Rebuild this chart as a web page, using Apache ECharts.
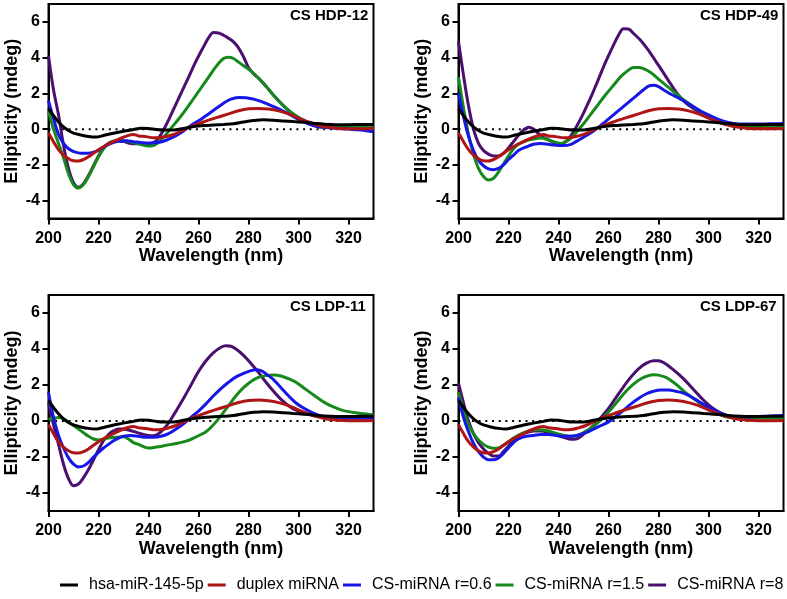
<!DOCTYPE html>
<html><head><meta charset="utf-8">
<script src="https://cdn.jsdelivr.net/npm/echarts@6/dist/echarts.min.js"></script>
<style>html,body{margin:0;padding:0;background:#fff}#c{width:787px;height:599px}</style>
</head><body><div id="c"></div><script>
// ---- data: [wavelength nm, ellipticity mdeg] ----
const ctrl = [[200,1.15],[202,0.75],[204,0.4],[206,0.12],[208,-0.08],[210,-0.22],[213,-0.33],[216,-0.41],[219,-0.44],[222,-0.36],[225,-0.26],[228,-0.17],[231,-0.09],[234,-0.02],[237,0.05],[240,0.04],[243,-0.02],[246,-0.05],[250,-0.05],[254,0.04],[258,0.14],[262,0.2],[266,0.23],[270,0.26],[274,0.3],[278,0.4],[282,0.48],[286,0.52],[290,0.5],[294,0.46],[298,0.42],[302,0.38],[306,0.33],[310,0.28],[315,0.25],[320,0.25],[325,0.26],[330,0.26]];
const duplex = [[200,-0.2],[202,-0.7],[204,-1.15],[206,-1.45],[208,-1.65],[210,-1.77],[212,-1.78],[214,-1.7],[216,-1.55],[218,-1.35],[220,-1.15],[223,-0.9],[226,-0.7],[229,-0.5],[232,-0.35],[234,-0.3],[236,-0.38],[239,-0.42],[242,-0.48],[245,-0.47],[248,-0.38],[251,-0.25],[254,-0.05],[257,0.15],[260,0.3],[264,0.5],[268,0.68],[272,0.85],[276,1.03],[280,1.14],[284,1.16],[288,1.12],[292,1.02],[296,0.85],[300,0.62],[304,0.4],[308,0.22],[312,0.1],[316,0.04],[320,0.02],[325,0.02],[330,0.03]];

const hdp12_r06 = [[200,1.6],[202,0.6],[204,-0.3],[206,-0.8],[208,-1.1],[210,-1.25],[213,-1.35],[216,-1.35],[219,-1.25],[222,-1.0],[225,-0.8],[228,-0.68],[231,-0.65],[234,-0.7],[237,-0.75],[240,-0.78],[243,-0.75],[246,-0.68],[249,-0.5],[252,-0.28],[255,0],[258,0.3],[261,0.55],[264,0.85],[267,1.15],[270,1.45],[273,1.68],[276,1.77],[279,1.76],[282,1.68],[285,1.55],[288,1.38],[291,1.2],[294,1.0],[297,0.78],[300,0.55],[304,0.3],[308,0.15],[312,0.08],[316,0.04],[320,0.0],[325,-0.05],[330,-0.15]];
const hdp12_r15 = [[200,1.0],[202,0.0],[204,-0.8],[206,-1.6],[208,-2.5],[210,-3.1],[212,-3.3],[214,-3.1],[216,-2.65],[218,-2.1],[220,-1.55],[222,-1.1],[224,-0.8],[227,-0.65],[230,-0.65],[233,-0.72],[236,-0.82],[239,-0.93],[241,-0.95],[243,-0.85],[245,-0.6],[247,-0.3],[249,0.05],[252,0.55],[255,1.1],[258,1.7],[261,2.3],[264,2.9],[267,3.5],[270,3.95],[272,4.02],[274,3.95],[276,3.75],[278,3.55],[281,3.25],[284,2.85],[287,2.4],[290,1.9],[293,1.45],[296,1.05],[299,0.75],[302,0.5],[306,0.25],[310,0.12],[315,0.1],[320,0.1],[325,0.1],[330,0.1]];
const hdp12_r8 = [[200,4.1],[202,2.2],[204,0.8],[206,-0.9],[208,-2.2],[210,-3.0],[212,-3.25],[214,-3.05],[216,-2.6],[218,-2.05],[220,-1.5],[222,-1.05],[224,-0.8],[227,-0.65],[230,-0.7],[233,-0.8],[236,-0.82],[239,-0.85],[242,-0.75],[244,-0.5],[246,-0.05],[248,0.5],[250,1.1],[253,2.0],[256,2.9],[259,3.8],[262,4.6],[264,5.1],[266,5.4],[268,5.38],[270,5.25],[272,5.08],[274,4.88],[276,4.55],[278,4.05],[280,3.45],[282,3.1],[284,2.85],[287,2.4],[290,1.9],[293,1.45],[296,1.05],[299,0.72],[302,0.45],[306,0.2],[310,0.1],[315,0.12],[320,0.1],[325,0.08],[330,0.05]];

const hdp49_r06 = [[200,2.0],[202,0.7],[204,-0.4],[206,-1.2],[208,-1.75],[210,-2.05],[212,-2.22],[214,-2.27],[216,-2.2],[218,-2.0],[220,-1.7],[222,-1.45],[224,-1.2],[227,-1.0],[230,-0.85],[233,-0.8],[236,-0.85],[239,-0.9],[242,-0.92],[245,-0.85],[247,-0.7],[250,-0.45],[253,-0.2],[256,0.1],[259,0.45],[262,0.8],[265,1.15],[268,1.5],[271,1.85],[274,2.2],[276,2.4],[278,2.45],[280,2.38],[282,2.2],[285,1.95],[288,1.75],[291,1.5],[294,1.25],[297,1.0],[300,0.8],[303,0.6],[306,0.45],[310,0.32],[315,0.28],[320,0.28],[325,0.3],[330,0.3]];
const hdp49_r15 = [[200,2.9],[202,1.2],[204,-0.3],[206,-1.4],[208,-2.2],[210,-2.65],[212,-2.85],[214,-2.75],[216,-2.4],[218,-1.95],[220,-1.5],[222,-1.1],[224,-0.85],[227,-0.65],[230,-0.55],[233,-0.5],[236,-0.6],[239,-0.75],[241,-0.8],[243,-0.7],[245,-0.5],[247,-0.2],[250,0.3],[253,0.85],[256,1.4],[259,1.95],[262,2.45],[265,2.95],[268,3.3],[270,3.45],[272,3.45],[274,3.38],[277,3.15],[280,2.8],[283,2.45],[286,2.1],[289,1.75],[292,1.45],[295,1.15],[298,0.9],[301,0.65],[305,0.4],[310,0.2],[315,0.15],[320,0.15],[325,0.12],[330,0.1]];
const hdp49_r8 = [[200,4.9],[202,3.0],[204,1.3],[206,0.0],[208,-0.8],[210,-1.2],[212,-1.4],[214,-1.5],[216,-1.5],[218,-1.35],[220,-1.05],[222,-0.7],[224,-0.35],[226,-0.05],[228,0.1],[230,0.0],[232,-0.25],[234,-0.45],[236,-0.6],[238,-0.75],[240,-0.82],[242,-0.78],[244,-0.55],[246,-0.15],[248,0.35],[250,0.9],[253,1.8],[256,2.8],[259,3.8],[262,4.7],[264,5.25],[266,5.62],[268,5.6],[270,5.35],[273,4.95],[276,4.4],[279,3.78],[282,3.15],[285,2.5],[288,1.9],[291,1.45],[294,1.15],[297,0.9],[300,0.68],[304,0.45],[308,0.28],[312,0.2],[316,0.2],[320,0.22],[325,0.25],[330,0.28]];

const ldp11_r06 = [[200,1.6],[202,0.2],[204,-0.8],[206,-1.5],[208,-2.05],[210,-2.4],[212,-2.55],[214,-2.5],[216,-2.3],[218,-2.0],[220,-1.75],[222,-1.5],[224,-1.3],[226,-1.1],[228,-0.95],[230,-0.85],[233,-0.8],[236,-0.85],[239,-0.9],[242,-0.9],[245,-0.85],[248,-0.7],[251,-0.45],[254,-0.15],[257,0.2],[260,0.55],[263,0.95],[266,1.4],[269,1.8],[272,2.15],[275,2.45],[278,2.65],[281,2.8],[283,2.85],[285,2.8],[287,2.62],[290,2.3],[293,1.85],[296,1.4],[299,1.0],[302,0.72],[305,0.5],[308,0.32],[311,0.2],[315,0.15],[320,0.15],[325,0.15],[330,0.15]];
const ldp11_r15 = [[200,0.1],[202,0.15],[204,0.2],[206,0.12],[208,-0.05],[210,-0.25],[212,-0.45],[214,-0.65],[216,-0.85],[218,-1.0],[220,-1.05],[222,-1.0],[224,-0.95],[227,-0.9],[230,-0.88],[232,-1.0],[234,-1.2],[236,-1.3],[238,-1.42],[240,-1.5],[243,-1.45],[246,-1.38],[249,-1.3],[252,-1.22],[255,-1.12],[258,-0.95],[261,-0.75],[263,-0.6],[265,-0.35],[267,-0.05],[269,0.3],[272,0.85],[275,1.4],[278,1.85],[281,2.2],[284,2.42],[287,2.52],[290,2.55],[293,2.5],[296,2.35],[299,2.15],[302,1.85],[305,1.55],[308,1.25],[311,0.98],[314,0.78],[317,0.62],[320,0.52],[325,0.42],[330,0.35]];
const ldp11_r8 = [[200,1.0],[202,-0.2],[204,-1.3],[206,-2.4],[208,-3.2],[210,-3.6],[212,-3.5],[214,-3.15],[216,-2.7],[218,-2.15],[220,-1.6],[222,-1.1],[224,-0.75],[226,-0.55],[228,-0.45],[230,-0.45],[232,-0.5],[235,-0.62],[238,-0.75],[241,-0.82],[243,-0.78],[245,-0.6],[247,-0.3],[249,0.1],[251,0.55],[254,1.25],[257,2.0],[260,2.75],[263,3.35],[266,3.8],[269,4.1],[271,4.18],[273,4.15],[275,4.0],[278,3.65],[281,3.2],[284,2.7],[287,2.15],[290,1.65],[293,1.2],[296,0.85],[299,0.6],[302,0.45],[306,0.3],[310,0.2],[315,0.18],[320,0.2],[325,0.22],[330,0.25]];

const ldp67_r06 = [[200,1.3],[202,0.2],[204,-0.6],[206,-1.25],[208,-1.7],[210,-2.0],[212,-2.15],[214,-2.15],[216,-2.05],[218,-1.8],[220,-1.5],[222,-1.2],[224,-1.0],[227,-0.85],[230,-0.8],[233,-0.75],[236,-0.75],[239,-0.8],[242,-0.85],[245,-0.85],[248,-0.78],[251,-0.65],[254,-0.45],[257,-0.25],[260,-0.05],[263,0.25],[266,0.6],[269,0.95],[272,1.25],[275,1.5],[278,1.65],[281,1.72],[284,1.72],[287,1.65],[290,1.55],[293,1.35],[296,1.1],[299,0.85],[302,0.6],[305,0.42],[308,0.28],[312,0.22],[316,0.22],[320,0.25],[325,0.28],[330,0.3]];
const ldp67_r15 = [[200,1.6],[202,0.6],[204,-0.2],[206,-0.7],[208,-1.05],[210,-1.3],[212,-1.45],[214,-1.52],[216,-1.5],[218,-1.35],[220,-1.15],[222,-0.95],[225,-0.72],[228,-0.55],[231,-0.48],[234,-0.5],[237,-0.6],[240,-0.72],[243,-0.82],[246,-0.85],[249,-0.72],[252,-0.48],[255,-0.18],[258,0.2],[261,0.65],[264,1.15],[267,1.65],[270,2.05],[273,2.35],[276,2.52],[278,2.57],[280,2.55],[283,2.42],[286,2.15],[289,1.8],[292,1.45],[295,1.15],[298,0.85],[301,0.6],[304,0.38],[308,0.2],[312,0.15],[316,0.15],[320,0.15],[325,0.15],[330,0.15]];
const ldp67_r8 = [[200,2.1],[202,1.0],[204,0.0],[206,-0.7],[208,-1.2],[210,-1.55],[212,-1.8],[214,-1.95],[216,-1.95],[218,-1.7],[220,-1.4],[222,-1.1],[224,-0.85],[227,-0.65],[230,-0.55],[233,-0.55],[236,-0.65],[239,-0.78],[242,-0.9],[245,-1.02],[247,-1.0],[249,-0.85],[251,-0.62],[253,-0.38],[255,-0.12],[257,0.2],[260,0.7],[263,1.3],[266,1.9],[269,2.45],[272,2.9],[275,3.2],[278,3.35],[280,3.35],[282,3.25],[285,2.95],[288,2.6],[291,2.2],[294,1.75],[297,1.3],[300,0.9],[303,0.6],[306,0.38],[310,0.22],[315,0.18],[320,0.18],[325,0.18],[330,0.2]];

const seriesNames = ['hsa-miR-145-5p','duplex miRNA','CS-miRNA r=0.6','CS-miRNA r=1.5','CS-miRNA r=8'];
const panelTitles = ['CS HDP-12','CS HDP-49','CS LDP-11','CS LDP-67'];
const xTicks = [200,220,240,260,280,300,320];
const yTicks = [-4,-2,0,2,4,6];
const zeroLine = [[200,0],[330,0]];

// ---- presentation ----
const colors = ['#000000','#b01515','#1616e6','#158a1a','#4b0f70'];
const FONT = "'Liberation Sans', Arial, Helvetica, sans-serif";
const panelData = [
  [ctrl, duplex, hdp12_r06, hdp12_r15, hdp12_r8],
  [ctrl, duplex, hdp49_r06, hdp49_r15, hdp49_r8],
  [ctrl, duplex, ldp11_r06, ldp11_r15, ldp11_r8],
  [ctrl, duplex, ldp67_r06, ldp67_r15, ldp67_r8]
];
const gridPos = [
  {left:48.5, top:4, width:325, height:214.5},
  {left:458.5, top:4, width:325, height:214.5},
  {left:48.5, top:295, width:325, height:216},
  {left:458.5, top:295, width:325, height:216}
];
const titlePos = [{left:290, top:8},{left:700, top:8},{left:290, top:299},{left:700, top:299}];

const grids = [], xAxes = [], yAxes = [], series = [], titles = [];
panelData.forEach((pd, i) => {
  grids.push(Object.assign({show:true, borderColor:'#000', borderWidth:2, backgroundColor:'transparent', containLabel:false}, gridPos[i]));
  titles.push({text: panelTitles[i], left: titlePos[i].left, top: titlePos[i].top, padding:0,
    textStyle:{fontSize:15, fontWeight:'bold', color:'#000', fontFamily:FONT}});
  xAxes.push({gridIndex:i, type:'value', min:200, max:330,
    axisLine:{show:true, onZero:false, lineStyle:{color:'#000', width:2}},
    axisTick:{show:true, customValues:xTicks, length:6, lineStyle:{color:'#000', width:2}},
    axisLabel:{customValues:xTicks, margin:12, fontSize:16, fontWeight:'bold', color:'#000', fontFamily:FONT},
    splitLine:{show:false},
    name:'Wavelength (nm)', nameLocation:'middle', nameGap:25,
    nameTextStyle:{fontSize:18, fontWeight:'bold', color:'#000', fontFamily:FONT}});
  yAxes.push({gridIndex:i, type:'value', min:-5, max:7,
    axisLine:{show:true, onZero:false, lineStyle:{color:'#000', width:2}},
    axisTick:{show:true, customValues:yTicks, length:6, lineStyle:{color:'#000', width:2}},
    axisLabel:{customValues:yTicks, margin:8.5, fontSize:16, fontWeight:'bold', color:'#000', fontFamily:FONT},
    splitLine:{show:false},
    name:'Ellipticity (mdeg)', nameLocation:'middle', nameGap:27,
    nameTextStyle:{fontSize:18, fontWeight:'bold', color:'#000', fontFamily:FONT}});
  series.push({type:'line', name:'zero', xAxisIndex:i, yAxisIndex:i, data:zeroLine, symbol:'none', silent:true,
    lineStyle:{color:'#000', width:2, type:[2,4.7]}, z:1});
  // draw order: r=8 at back, control on top
  for (let k = 4; k >= 0; k--) {
    series.push({type:'line', name:seriesNames[k], xAxisIndex:i, yAxisIndex:i, data:pd[k],
      smooth:0.35, symbol:'none', silent:true, color:colors[k],
      lineStyle:{color:colors[k], width:3}, z:2});
  }
});

const chart = echarts.init(document.getElementById('c'), null, {renderer:'canvas'});
chart.setOption({
  animation:false,
  backgroundColor:'#fff',
  title: titles,
  grid: grids,
  xAxis: xAxes,
  yAxis: yAxes,
  legend: {data: seriesNames, left:60, top:577, padding:0, itemWidth:18, itemHeight:3, itemGap:4,
    icon:'rect', selectedMode:false,
    textStyle:{fontSize:16, color:'#000', fontFamily:FONT, padding:[0,0,0,6]}},
  series: series
});
</script></body></html>
